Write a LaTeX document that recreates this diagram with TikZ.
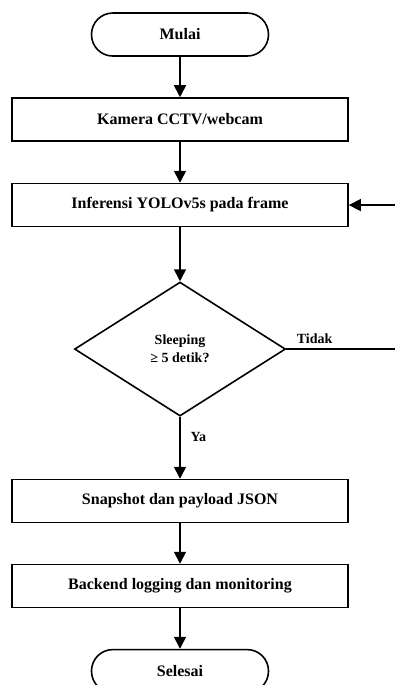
\documentclass[tikz,border=0pt]{standalone}
\usepackage{fontspec}
\setmainfont{Liberation Serif}
\usetikzlibrary{arrows.meta,positioning,shapes.geometric}
\tikzset{
    %Define standard arrow tip
    >={Triangle[width=9pt,length=9pt]},
    %Define style for process boxes
    proses/.style={
           rectangle, draw, line width=1.2pt,
           minimum width=252pt, minimum height=32.25pt,
           font=\bfseries\fontsize{12}{14}\selectfont},
    %Define style for start and end
    terminal/.style={
           rectangle, draw, line width=1.2pt, rounded corners=16pt,
           minimum width=132.75pt, minimum height=32.25pt,
           font=\bfseries\fontsize{12}{14}\selectfont},
    %Define style for the decision
    keputusan/.style={
           diamond, draw, line width=1.2pt, inner sep=0pt,
           minimum width=158.25pt, minimum height=100.5pt,
           align=center, font=\bfseries\fontsize{10.5}{13.5}\selectfont},
    label/.style={
           font=\bfseries\fontsize{10.5}{13}\selectfont},
    % Define arrow style
    pil/.style={
           ->,
           line width=1.2pt}
}

\begin{document}
\begin{tikzpicture}[node distance=63.75pt]
	\useasboundingbox (0,0) rectangle (295.5pt,-513.75pt);

	% Main flow
	\node[terminal] (mulai) at (135pt,-25.9pt) {Mulai};
	\node[proses, below of=mulai] (kamera) {Kamera CCTV/webcam};
	\node[proses, below of=kamera, yshift=-0.4pt] (infer) {Inferensi YOLOv5s pada frame};
	\node[keputusan, below of=infer, yshift=-44.25pt] (cek) {Sleeping\\≥ 5 detik?};
	\node[proses, below of=cek, yshift=-50.25pt] (snapshot) {Snapshot dan payload JSON};
	\node[proses, below of=snapshot] (backend) {Backend logging dan monitoring};
	\node[terminal, below of=backend] (selesai) {Selesai};

	\path[pil] (mulai) edge (kamera)
	           (kamera) edge (infer)
	           (infer) edge (cek)
	           (cek) edge node[label, right, pos=0.32, xshift=4pt] {Ya} (snapshot)
	           (snapshot) edge (backend)
	           (backend) edge (selesai);

	% Loop back to inference
	\coordinate[right=39pt of infer.east] (balik);
	\draw[pil] (cek.east) node[label, above right, xshift=4pt] {Tidak} -| (balik) -- (infer.east);

\end{tikzpicture}
\end{document}
